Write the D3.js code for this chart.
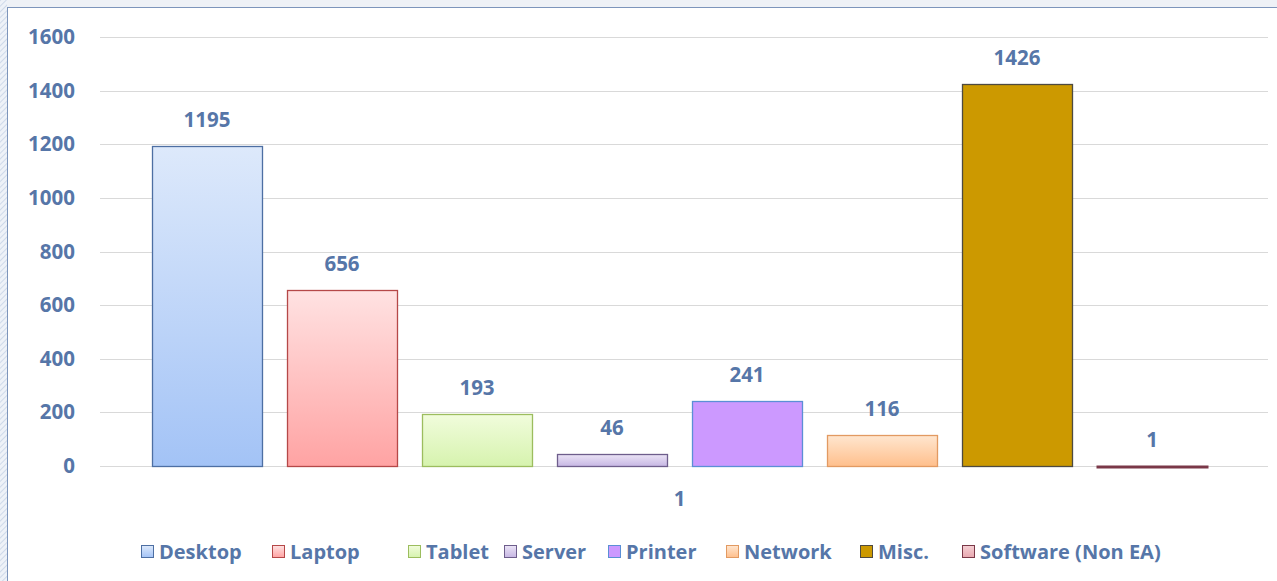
<!DOCTYPE html>
<html>
<head>
<meta charset="utf-8">
<script src="https://cdn.jsdelivr.net/npm/d3@7"></script>
<style>
  html, body { margin: 0; padding: 0; background: #eef1f6; }
  svg { display: block; }
  .axis text { font-family: 'Open Sans', sans-serif; font-weight: 700; font-size: 20.5px; fill: #5676a8; }
  .val-label { font-family: 'Open Sans', sans-serif; font-weight: 700; font-size: 20.5px; fill: #5676a8; }
  .legend text { font-family: 'Open Sans', sans-serif; font-weight: 700; font-size: 20px; fill: #5676a8; }
</style>
</head>
<body>
<div class="chart"></div>
<script>
// 数据
var category = '1';
var seriesNames = ['Desktop', 'Laptop', 'Tablet', 'Server', 'Printer', 'Network', 'Misc.', 'Software (Non EA)'];
var seriesValues = [1195, 656, 193, 46, 241, 116, 1426, 1];
var yTicks = [0, 200, 400, 600, 800, 1000, 1200, 1400, 1600];

// 每个系列的颜色: 渐变上/下, 边框
var fillTop = ['#dde9fb', '#ffe2e2', '#f1fcdc', '#ebe4f6', '#cc99ff', '#ffe6cf', '#cc9900', '#f6d0d4'];
var fillBottom = ['#a3c3f6', '#ffa3a3', '#d6f3ae', '#c6b6e3', '#cc99ff', '#ffbf8c', '#cc9900', '#e7a8b0'];
var strokes = ['#4d6fa3', '#b54848', '#9cbd5e', '#6e5e8c', '#5b8fd6', '#e29a62', '#4e4a40', '#7a3848'];

var svgWidth = 1277,
    svgHeight = 581;

// 图表区域
var leftMove = 100,
    rightEdge = 1259,
    gridRight = 1268,
    topMove = 37,
    bottomY = 466;

var svg = d3.select('.chart')
    .append('svg')
    .attr('width', svgWidth)
    .attr('height', svgHeight);

// 背景斜线
var defs = svg.append('defs');
var hatch = defs.append('pattern')
    .attr('id', 'hatch')
    .attr('width', 4)
    .attr('height', 4)
    .attr('patternUnits', 'userSpaceOnUse')
    .attr('patternTransform', 'rotate(45)');
hatch.append('rect').attr('width', 4).attr('height', 4).attr('fill', '#eef2f8');
hatch.append('line').attr('x1', 0).attr('y1', 0).attr('x2', 0).attr('y2', 4)
    .style('stroke', '#b8c8e0').style('stroke-width', 1.2);

svg.append('rect').attr('x', 0).attr('y', 0).attr('width', 7).attr('height', svgHeight).attr('fill', 'url(#hatch)');
svg.append('rect').attr('x', 7).attr('y', 7).attr('width', svgWidth - 7).attr('height', svgHeight - 7).attr('fill', '#ffffff');
svg.append('line').attr('x1', 7.5).attr('x2', 7.5).attr('y1', 7).attr('y2', svgHeight).style('stroke', '#7d95bb');
svg.append('line').attr('x1', 7).attr('x2', svgWidth).attr('y1', 7.5).attr('y2', 7.5).style('stroke', '#7d95bb');

// 渐变
seriesNames.forEach(function(name, i) {
    var g = defs.append('linearGradient')
        .attr('id', 'grad' + i)
        .attr('x1', 0).attr('y1', 0).attr('x2', 0).attr('y2', 1);
    g.append('stop').attr('offset', '0%').attr('stop-color', fillTop[i]);
    g.append('stop').attr('offset', '100%').attr('stop-color', fillBottom[i]);
});

// x轴比例尺 (类别)
var xCat = d3.scaleBand()
    .domain([category])
    .range([leftMove, rightEdge]);

// 系列比例尺
var xScale = d3.scaleBand()
    .domain(seriesNames)
    .range([leftMove, rightEdge])
    .paddingInner(0.185)
    .paddingOuter(0.385);

// y轴比例尺
var yScale = d3.scaleLinear()
    .domain([0, 1600])
    .range([bottomY, topMove]);

// 水平分割线
svg.append('g')
    .classed('divide-line-container', true)
    .selectAll('line')
    .data(yTicks)
    .enter()
    .append('line')
    .attr('x1', leftMove)
    .attr('x2', gridRight)
    .attr('y1', function(d) { return Math.round(yScale(d)) + 0.5; })
    .attr('y2', function(d) { return Math.round(yScale(d)) + 0.5; })
    .style('stroke', '#d9d9d9')
    .style('stroke-width', 1);

// y轴
var yAxis = d3.axisLeft(yScale)
    .tickValues(yTicks)
    .tickSizeInner(0)
    .tickSizeOuter(0)
    .tickPadding(0)
    .tickFormat(d3.format('d'));
var yg = svg.append('g')
    .classed('axis', true)
    .attr('transform', 'translate(75,0)')
    .call(yAxis);
yg.select('.domain').remove();

// x轴
var xAxis = d3.axisBottom(xCat)
    .tickSizeInner(0)
    .tickSizeOuter(0)
    .tickPadding(25);
var xg = svg.append('g')
    .classed('axis', true)
    .attr('transform', 'translate(0,' + bottomY + ')')
    .call(xAxis);
xg.select('.domain').remove();

// 柱
svg.append('g')
    .classed('rect-container', true)
    .selectAll('rect')
    .data(seriesValues)
    .enter()
    .append('rect')
    .attr('x', function(d, i) { return Math.round(xScale(seriesNames[i])) + 0.5; })
    .attr('y', function(d) { return Math.round(yScale(d)) + 0.5; })
    .attr('width', Math.round(xScale.bandwidth()))
    .attr('height', function(d) { return Math.max(1, Math.round(bottomY - yScale(d))); })
    .style('fill', function(d, i) { return 'url(#grad' + i + ')'; })
    .style('stroke', function(d, i) { return strokes[i]; })
    .style('stroke-width', function(d, i) { return i === 7 ? 2 : 1.3; });

// 数值标签
svg.append('g')
    .selectAll('text')
    .data(seriesValues)
    .enter()
    .append('text')
    .classed('val-label', true)
    .attr('x', function(d, i) { return xScale(seriesNames[i]) + xScale.bandwidth() / 2; })
    .attr('y', function(d) { return yScale(d) - 19; })
    .attr('text-anchor', 'middle')
    .text(function(d) { return d; });

// 图例
var legendX = [141, 272, 408, 504, 608, 726, 860, 962];
var legend = svg.append('g').classed('legend', true);
var items = legend.selectAll('g')
    .data(seriesNames)
    .enter()
    .append('g')
    .attr('transform', function(d, i) { return 'translate(' + legendX[i] + ',552)'; });
items.append('rect')
    .attr('x', 0.5)
    .attr('y', -6.5)
    .attr('width', 12)
    .attr('height', 12)
    .style('fill', function(d, i) { return 'url(#grad' + i + ')'; })
    .style('stroke', function(d, i) { return strokes[i]; })
    .style('stroke-width', 1);
items.append('text')
    .attr('x', 18)
    .attr('y', 0)
    .attr('dy', '0.35em')
    .text(function(d) { return d; });
</script>
</body>
</html>
